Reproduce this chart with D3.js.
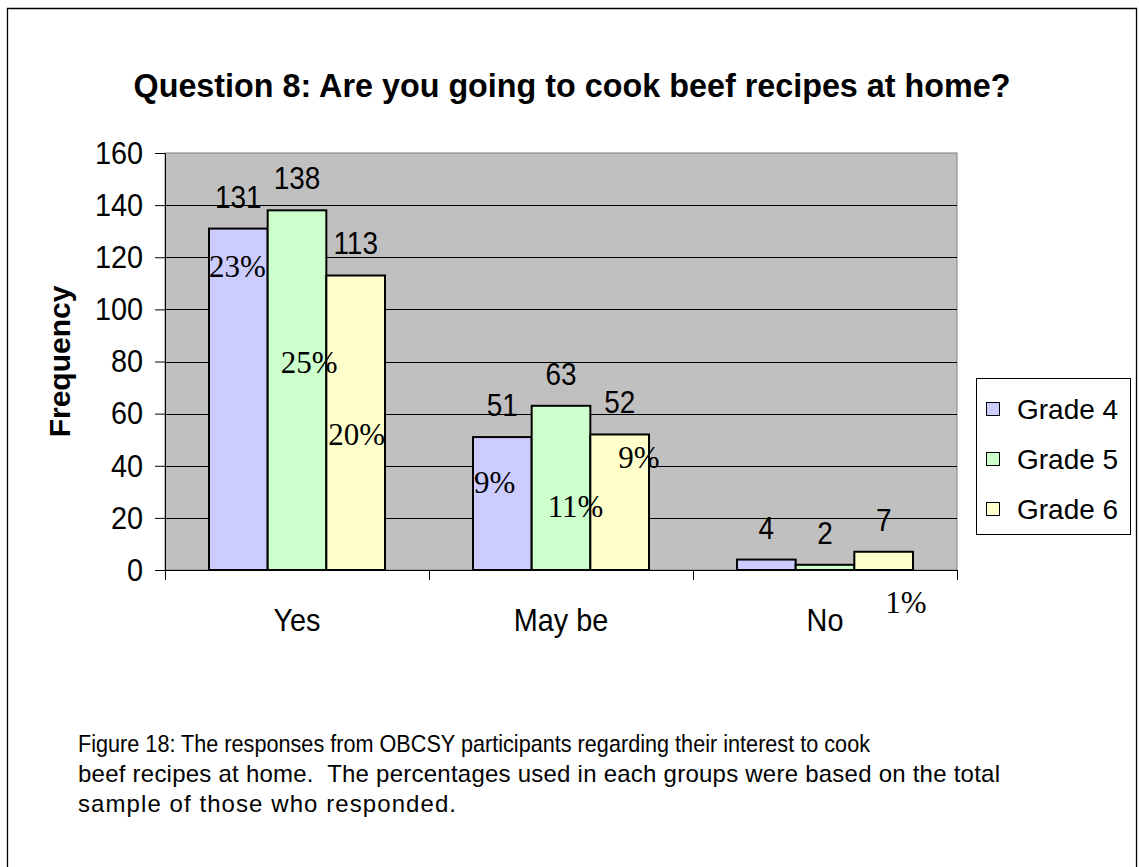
<!DOCTYPE html>
<html>
<head>
<meta charset="utf-8">
<script src="https://cdn.jsdelivr.net/npm/d3@7/dist/d3.min.js"></script>
<style>
  html, body { margin: 0; padding: 0; background: #fff; }
  svg { display: block; }
  text { white-space: pre; }
</style>
</head>
<body>
<svg id="chart" width="1139" height="867"></svg>
<script>
// ---- data ----
const categories = ["Yes", "May be", "No"];
const seriesNames = ["Grade 4", "Grade 5", "Grade 6"];
const grade4 = [131, 51, 4];
const grade5 = [138, 63, 2];
const grade6 = [113, 52, 7];
const pct4 = ["23%", "9%", ""];
const pct5 = ["25%", "11%", ""];
const pct6 = ["20%", "9%", "1%"];
const yTicks = [0, 20, 40, 60, 80, 100, 120, 140, 160];
const titleText = "Question 8: Are you going to cook beef recipes at home?";
const yTitle = "Frequency";
const captionLines = [
  "Figure 18: The responses from OBCSY participants regarding their interest to cook",
  "beef recipes at home.  The percentages used in each groups were based on the total",
  "sample of those who responded."
];

// ---- layout / style ----
const colors = ["#ccccff", "#ccffcc", "#ffffcc"];
const plot = { left: 165, top: 153, right: 957, bottom: 570 };
// percentage labels were hand-placed: anchor height in data units, x offset in px from bar left
const pctPlace = [
  [{ v: 112.4, dx: 0 },  { v: 29.5, dx: 1 },  null],
  [{ v: 75.6,  dx: 13 }, { v: 20.3, dx: 16 }, null],
  [{ v: 48.0,  dx: 2 },  { v: 39.0, dx: 28 }, { v: -16.5, dx: 31 }]
];
// rendered widths and horizontal glyph scale of the caption lines
const captionWidths = [792, 922, 378];
const captionCondense = [0.9, 1, 1];

const series = [grade4, grade5, grade6];
const pcts = [pct4, pct5, pct6];
const sans = "Liberation Sans, Arial, sans-serif";

// squeeze glyphs horizontally (the chart's fonts are set narrow and tall)
function condense(sel, k) {
  sel.each(function () {
    const w = this.getComputedTextLength();
    d3.select(this).attr("textLength", w * k).attr("lengthAdjust", "spacingAndGlyphs");
  });
}

const svg = d3.select("#chart");

// outer chart frame (bottom edge runs off the page)
svg.append("path")
  .attr("d", "M7.5,900V8.5H1136.5V900")
  .attr("fill", "none").attr("stroke", "#000").attr("stroke-width", 1.3);

// title
svg.append("text")
  .attr("x", 572).attr("y", 97)
  .attr("text-anchor", "middle")
  .attr("font-family", sans)
  .attr("font-weight", "bold").attr("font-size", 34)
  .attr("textLength", 877).attr("lengthAdjust", "spacingAndGlyphs")
  .text(titleText);

const x0 = d3.scaleBand().domain(categories).range([plot.left, plot.right]).paddingInner(0).paddingOuter(0);
// bar groups take 3 of 4.5 bar widths in each category (gap of 1.5 bar widths)
const bw = x0.bandwidth() / 4.5;
const x1 = d3.scaleBand().domain(seriesNames).range([bw * 0.75, bw * 3.75]).padding(0);
const y = d3.scaleLinear().domain([0, 160]).range([plot.bottom, plot.top]);

// plot background
svg.append("rect")
  .attr("x", plot.left).attr("y", plot.top)
  .attr("width", plot.right - plot.left).attr("height", plot.bottom - plot.top)
  .attr("fill", "#c0c0c0").attr("stroke", "#808080").attr("stroke-width", 1);

// gridlines
svg.append("g").selectAll("line")
  .data(yTicks.filter(d => d > 0 && d < 160))
  .join("line")
  .attr("x1", plot.left).attr("x2", plot.right)
  .attr("y1", d => Math.round(y(d)) + 0.5).attr("y2", d => Math.round(y(d)) + 0.5)
  .attr("stroke", "#000").attr("stroke-width", 1);

// y axis
const yAxis = svg.append("g")
  .attr("transform", `translate(${plot.left},0)`)
  .call(d3.axisLeft(y).tickValues(yTicks).tickSize(10).tickPadding(12).tickSizeOuter(0));
yAxis.select(".domain").attr("stroke", "#000");
yAxis.selectAll(".tick line").attr("stroke", "#000");
yAxis.selectAll("text")
  .attr("font-family", sans)
  .attr("font-size", 32).attr("fill", "#000")
  .call(condense, 0.9);

// x axis
const xAxis = svg.append("g")
  .attr("transform", `translate(0,${plot.bottom})`)
  .call(d3.axisBottom(x0).tickSize(0).tickPadding(38));
xAxis.select(".domain").remove();
xAxis.selectAll("text")
  .attr("font-family", sans)
  .attr("font-size", 32).attr("fill", "#000")
  .call(condense, 0.9);
svg.append("line")
  .attr("x1", plot.left - 10).attr("x2", plot.right)
  .attr("y1", plot.bottom + 0.5).attr("y2", plot.bottom + 0.5)
  .attr("stroke", "#000");
// category separator ticks
svg.append("g").selectAll("line")
  .data(categories.concat([null]))
  .join("line")
  .attr("x1", (d, i) => plot.left + i * x0.bandwidth() + 0.5)
  .attr("x2", (d, i) => plot.left + i * x0.bandwidth() + 0.5)
  .attr("y1", plot.bottom).attr("y2", plot.bottom + 10)
  .attr("stroke", "#000");

// y title
svg.append("text")
  .attr("transform", `translate(70,${(plot.top + plot.bottom) / 2}) rotate(-90)`)
  .attr("text-anchor", "middle")
  .attr("font-family", sans)
  .attr("font-weight", "bold").attr("font-size", 30)
  .text(yTitle);

// bars
const groups = svg.append("g").selectAll("g")
  .data(categories)
  .join("g")
  .attr("transform", d => `translate(${x0(d)},0)`);

groups.selectAll("rect")
  .data((c, ci) => seriesNames.map((s, si) => ({ s, si, ci, v: series[si][ci] })))
  .join("rect")
  .attr("x", d => x1(d.s))
  .attr("y", d => y(d.v))
  .attr("width", x1.bandwidth())
  .attr("height", d => y(0) - y(d.v))
  .attr("fill", d => colors[d.si])
  .attr("stroke", "#000").attr("stroke-width", 2);

// value labels
groups.selectAll("text.val")
  .data((c, ci) => seriesNames.map((s, si) => ({ s, si, ci, v: series[si][ci] })))
  .join("text")
  .attr("class", "val")
  .attr("x", d => x1(d.s) + x1.bandwidth() / 2)
  .attr("y", d => y(d.v) - 21)
  .attr("text-anchor", "middle")
  .attr("font-family", sans)
  .attr("font-size", 31)
  .text(d => d.v)
  .call(condense, 0.9);

// percentage labels
groups.selectAll("text.pct")
  .data((c, ci) => seriesNames.map((s, si) => ({ s, si, ci, t: pcts[si][ci], p: pctPlace[si][ci] })).filter(d => d.p))
  .join("text")
  .attr("class", "pct")
  .attr("x", d => x1(d.s) + d.p.dx)
  .attr("y", d => y(d.p.v))
  .attr("font-family", "Liberation Serif, Times New Roman, serif")
  .attr("font-size", 31)
  .text(d => d.t);

// legend
const lg = svg.append("g").attr("transform", "translate(976,378)");
lg.append("rect").attr("x", 0.5).attr("y", 0.5).attr("width", 154).attr("height", 156)
  .attr("fill", "#fff").attr("stroke", "#000");
const li = lg.selectAll("g").data(seriesNames).join("g")
  .attr("transform", (d, i) => `translate(0,${32 + i * 50})`);
li.append("rect").attr("x", 10.5).attr("y", -7.5).attr("width", 13).attr("height", 13)
  .attr("fill", (d, i) => colors[i]).attr("stroke", "#000");
li.append("text").attr("x", 41).attr("y", 9)
  .attr("font-family", sans)
  .attr("font-size", 28)
  .text(d => d);

// caption: each line fitted to its width
svg.append("g").selectAll("g")
  .data(captionLines)
  .join("g")
  .attr("transform", (d, i) => `translate(78,${752 + i * 30}) scale(${captionCondense[i]},1)`)
  .append("text")
  .attr("x", 0).attr("y", 0)
  .attr("font-family", sans)
  .attr("font-size", 24)
  .attr("textLength", (d, i) => captionWidths[i] / captionCondense[i])
  .attr("lengthAdjust", "spacing")
  .text(d => d);
</script>
</body>
</html>
